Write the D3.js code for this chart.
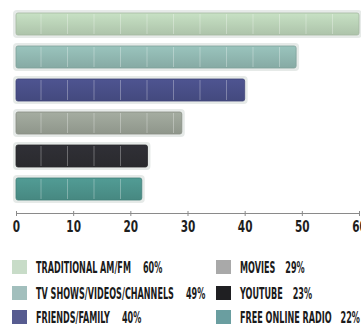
<!DOCTYPE html>
<html>
<head>
<meta charset="utf-8">
<script src="https://cdn.jsdelivr.net/npm/d3@7"></script>
<style>
  body { margin: 0; background: #fff; }
  svg text { font-family: "DejaVu Sans Condensed", "DejaVu Sans", sans-serif; font-weight: bold; }
</style>
</head>
<body>
<div class="chart"></div>
<script>
// data
var categories = ["TRADITIONAL AM/FM", "TV SHOWS/VIDEOS/CHANNELS", "FRIENDS/FAMILY", "MOVIES", "YOUTUBE", "FREE ONLINE RADIO"];
var values = [60, 49, 40, 29, 23, 22];
var tickValues = [0, 10, 20, 30, 40, 50, 60];
var barColors = ["#b6ceb3", "#8db3ad", "#474d85", "#979e93", "#2c2c31", "#4b8f88"];
var swatchColors = ["#c8dcc8", "#a2bfbd", "#575c90", "#a9a9a9", "#1f1f22", "#6a9ea0"];

var width = 361, height = 326;

var svg = d3.select(".chart")
            .append("svg")
            .attr("width", width)
            .attr("height", height);

// scales
var x = d3.scaleLinear().domain([0, 60]).range([16, 359]);
var y = d3.scaleBand().domain(categories).range([13, 200]).paddingInner(1 / 3).paddingOuter(0);

// gradients for the bars, lighter at the top
var defs = svg.append("defs");
barColors.forEach(function(c, i) {
    var g = defs.append("linearGradient")
                .attr("id", "grad" + i)
                .attr("x1", 0).attr("y1", 0).attr("x2", 0).attr("y2", 1);
    g.append("stop").attr("offset", "0%").attr("stop-color", d3.color(c).brighter(0.25));
    g.append("stop").attr("offset", "100%").attr("stop-color", d3.color(c).darker(0.15));
});

var rows = svg.selectAll("g.bar")
              .data(categories)
              .enter()
              .append("g")
              .attr("class", "bar");

// light halo around each bar
rows.append("rect")
    .attr("x", x(0) - 3)
    .attr("y", function(d) { return y(d) - 3; })
    .attr("width", function(d, i) { return x(values[i]) - x(0) + 6; })
    .attr("height", y.bandwidth() + 6)
    .attr("rx", 4)
    .attr("fill", "#e6eae8");

rows.append("rect")
    .attr("x", x(0))
    .attr("y", function(d) { return y(d); })
    .attr("width", function(d, i) { return x(values[i]) - x(0); })
    .attr("height", y.bandwidth())
    .attr("rx", 2)
    .attr("fill", function(d, i) { return "url(#grad" + i + ")"; })
    .attr("stroke", function(d, i) { return d3.color(barColors[i]).darker(0.3); })
    .attr("stroke-width", 0.8);

// thin segment lines inside the bars
var segStep = 26.5;
rows.each(function(d, i) {
    var end = x(values[i]);
    var segs = d3.range(x(0) + 25, end - 4, segStep);
    d3.select(this).selectAll("line")
        .data(segs)
        .enter()
        .append("line")
        .attr("x1", function(s) { return s; })
        .attr("x2", function(s) { return s; })
        .attr("y1", y(d) + 1)
        .attr("y2", y(d) + y.bandwidth() - 1)
        .attr("stroke", "#ffffff")
        .attr("stroke-opacity", 0.3)
        .attr("stroke-width", 1);
});

// axis
var axisY = 213;
var axis = svg.append("g")
              .attr("transform", "translate(0," + axisY + ")")
              .call(d3.axisBottom(x).tickValues(tickValues).tickSize(0).tickPadding(10));
axis.select(".domain").attr("stroke", "#8a8a8a").attr("stroke-width", 1);
axis.selectAll(".tick line").remove();
axis.selectAll(".tick").append("line")
    .attr("y1", -2).attr("y2", 3)
    .attr("stroke", "#8a8a8a");
// squeezed around each tick, so the labels stay centred
axis.selectAll(".tick text")
    .attr("fill", "#1e1e1e")
    .attr("font-size", 15)
    .attr("dy", "0.62em")
    .attr("transform", "scale(0.78,1)")
    .style("font-family", "'DejaVu Sans Condensed', 'DejaVu Sans', sans-serif")
    .style("font-weight", "bold");

// legend
var legendCols = [12, 216];
var legendRows = [267, 293, 317];
var legend = svg.selectAll("g.legend")
                .data(categories)
                .enter()
                .append("g")
                .attr("class", "legend")
                .attr("transform", function(d, i) {
                    return "translate(" + legendCols[Math.floor(i / 3)] + "," + legendRows[i % 3] + ")";
                });

legend.append("rect")
      .attr("x", 0).attr("y", -7)
      .attr("width", 15).attr("height", 14)
      .attr("fill", function(d, i) { return swatchColors[i]; });

var labels = legend.append("g")
      .attr("class", "label");

labels.append("text")
      .attr("class", "name")
      .attr("x", 0)
      .attr("y", 6)
      .attr("font-size", 16)
      .attr("fill", "#1b1b1b")
      .text(function(d) { return d; });

// squeeze the labels so they read like the condensed type of the original
var firstW = labels.select("text.name").node().getComputedTextLength();
var squeeze = 95 / firstW;
labels.attr("transform", "translate(24,0) scale(" + squeeze + ",1)");

// gap before the percentage, a bit tighter in the right column
var pctGap = [12, 12, 12, 10, 10, 9];
labels.each(function(d, i) {
    var w = d3.select(this).select("text.name").node().getComputedTextLength();
    d3.select(this).append("text")
        .attr("x", w + pctGap[i] / squeeze)
        .attr("y", 6)
        .attr("font-size", 16)
        .attr("fill", "#1b1b1b")
        .text(values[i] + "%");
});
</script>
</body>
</html>
